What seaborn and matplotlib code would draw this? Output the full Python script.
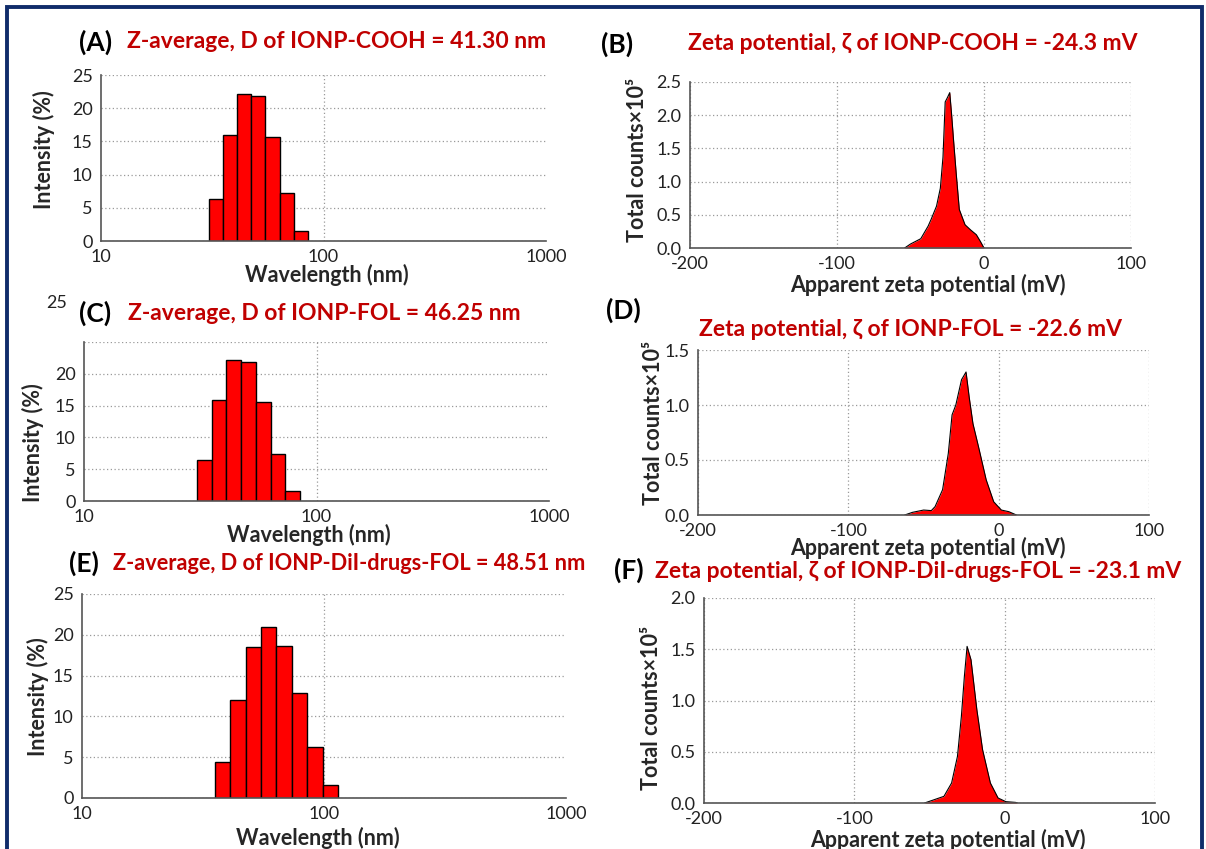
import numpy as np
import pandas as pd
import matplotlib
matplotlib.use("Agg")
import matplotlib.pyplot as plt
from matplotlib.patches import Rectangle
from matplotlib.ticker import MultipleLocator, FixedLocator, NullFormatter, FormatStrFormatter
import seaborn as sns

# DLS size distributions: bin edges (nm) and intensity (%)
edges_cooh = [30.7, 35.5, 41.0, 47.4, 54.8, 63.5, 73.5, 85.2]
intensity_cooh = [6.4, 15.9, 22.1, 21.9, 15.6, 7.3, 1.5]
edges_fol = [30.7, 35.5, 41.0, 47.4, 54.8, 63.5, 73.5, 85.2]
intensity_fol = [6.4, 15.9, 22.2, 21.9, 15.6, 7.4, 1.5]
edges_dil = [35.5, 41.0, 47.4, 54.8, 63.5, 73.5, 85.2, 98.7, 114.3]
intensity_dil = [4.4, 12.0, 18.5, 21.0, 18.65, 12.9, 6.3, 1.6]

# zeta potential distributions (mV vs counts x1e5)
zeta_cooh = [-54, -50, -43, -38, -36, -32.3, -29.7, -27.9, -26.4, -25, -23.3, -22, -20.7, -18.9, -16.8, -12.9, -9, -5.2, -2.5, 0]
counts_cooh = [0, 0.06, 0.14, 0.33, 0.43, 0.63, 0.90, 1.37, 2.20, 2.26, 2.34, 2.0, 1.62, 1.12, 0.58, 0.35, 0.27, 0.20, 0.10, 0]
zeta_fol = [-62.5, -57.4, -49.9, -44.8, -42.3, -37.3, -33.5, -31.0, -28.5, -24.7, -21.7, -19.6, -17.1, -13.4, -8.3, -3.3, 1.8, 6.8, 11.8]
counts_fol = [0, 0.024, 0.045, 0.04, 0.076, 0.23, 0.56, 0.91, 1.0, 1.23, 1.30, 1.07, 0.83, 0.62, 0.32, 0.12, 0.045, 0.03, 0]
zeta_dil = [-53.3, -48.1, -40.4, -35.3, -31.4, -28.8, -26.8, -25.0, -22.4, -18.5, -14.7, -9.5, -4.4, 0.8, 7.2, 8.5]
counts_dil = [0, 0.026, 0.065, 0.195, 0.455, 0.845, 1.236, 1.528, 1.398, 0.91, 0.52, 0.195, 0.049, 0.013, 0.006, 0]

panel_letters = ["(A)", "(B)", "(C)", "(D)", "(E)", "(F)"]
panel_titles = [
    "Z-average, D of IONP-COOH = 41.30 nm",
    "Zeta potential, \u03b6 of IONP-COOH = -24.3 mV",
    "Z-average, D of IONP-FOL = 46.25 nm",
    "Zeta potential, \u03b6 of IONP-FOL = -22.6 mV",
    "Z-average, D of IONP-DiI-drugs-FOL = 48.51 nm",
    "Zeta potential, \u03b6 of IONP-DiI-drugs-FOL = -23.1 mV",
]

sns.set_style("white")
plt.rcParams['font.family'] = ['Lato', 'DejaVu Sans']
plt.rcParams['axes.unicode_minus'] = False

W, H = 1206, 849
fig = plt.figure(figsize=(W / 100, H / 100), dpi=100)
RED = "#C00000"
FAM = ['Lato', 'DejaVu Sans']


def rect(l, r, t, b):
    return [l / W, 1 - b / H, (r - l) / W, (b - t) / H]


def ftext(x, y, s, **kw):
    fig.text(x / W, 1 - y / H, s, **kw)


def style_axes(ax):
    for side in ["top", "right"]:
        ax.spines[side].set_visible(False)
    for side in ["left", "bottom"]:
        ax.spines[side].set_color("#555555")
        ax.spines[side].set_linewidth(1.2)
    ax.tick_params(which="both", direction="inout", color="#555555", labelsize=13,
                   labelcolor="#222222")
    ax.tick_params(which="major", length=5, width=1)
    ax.tick_params(which="minor", length=4, width=1)
    ax.grid(True, which="major", color="#9a9a9a", linestyle=(0, (1, 2)), linewidth=0.9)
    ax.set_axisbelow(True)
    ax.set(xlabel="", ylabel="")


def size_panel(box, edges, vals):
    ax = fig.add_axes(rect(*box))
    edges = np.array(edges)
    df = pd.DataFrame({"size": np.sqrt(edges[:-1] * edges[1:]), "intensity": vals})
    sns.histplot(data=df, x="size", weights="intensity", bins=[float(b) for b in np.log10(edges)],
                 log_scale=True, ax=ax, color="#FF0000", edgecolor="black",
                 linewidth=1, alpha=1)
    ax.set_xlim(10, 1000)
    ax.set_ylim(0, 25)
    ax.xaxis.set_major_locator(FixedLocator([10, 100, 1000]))
    ax.xaxis.set_major_formatter(FormatStrFormatter("%d"))
    ax.xaxis.set_minor_locator(FixedLocator([20, 30, 40, 50, 60, 70, 80, 90,
                                             200, 300, 400, 500, 600, 700, 800, 900]))
    ax.xaxis.set_minor_formatter(NullFormatter())
    ax.yaxis.set_major_locator(MultipleLocator(5))
    ax.yaxis.set_minor_locator(MultipleLocator(2.5))
    style_axes(ax)
    ax.grid(False, axis="x")
    ax.axvline(100, color="#9a9a9a", linestyle=(0, (1, 2)), linewidth=0.9, zorder=0)
    return ax


def zeta_panel(box, x, y, ymax):
    ax = fig.add_axes(rect(*box))
    ax.fill_between(x, y, color="#FF0000", linewidth=0)
    sns.lineplot(x=x, y=y, ax=ax, color="black", linewidth=0.8, sort=False)
    ax.set_xlim(-200, 100)
    ax.set_ylim(0, ymax)
    ax.xaxis.set_major_locator(MultipleLocator(100))
    ax.xaxis.set_minor_locator(MultipleLocator(50))
    ax.yaxis.set_major_locator(MultipleLocator(0.5))
    ax.yaxis.set_minor_locator(MultipleLocator(0.25))
    ax.yaxis.set_major_formatter(FormatStrFormatter("%.1f"))
    style_axes(ax)
    return ax


axA = size_panel((101, 546, 75, 241), edges_cooh, intensity_cooh)
axB = zeta_panel((690, 1131, 82, 248), zeta_cooh, counts_cooh, 2.5)
axC = size_panel((84, 549, 342, 501), edges_fol, intensity_fol)
axD = zeta_panel((698, 1149, 350, 515), zeta_fol, counts_fol, 1.5)
axE = size_panel((82, 566, 594, 798), edges_dil, intensity_dil)
axF = zeta_panel((704, 1155, 598, 803), zeta_dil, counts_dil, 2.0)

# panel C: the "25" label sits far above the axis in the source figure
axC.set_yticks([0, 5, 10, 15, 20, 25], ["0", "5", "10", "15", "20", ""])
ftext(57, 303, "25", fontsize=13, color="#222222", ha="center", va="center", family=FAM)

# letters and red titles
letter_pos = [(79, 42), (601, 44), (79, 313), (606, 310), (69, 563), (614, 570)]
title_pos = [(127, 42), (688, 44), (128, 313), (699, 330), (113, 563), (655, 571)]
title_size = [16.5, 16.5, 16.5, 16.5, 15.7, 16.5]
for (lx, ly), (tx, ty), letter, title, fs in zip(letter_pos, title_pos, panel_letters,
                                               panel_titles, title_size):
    ftext(lx, ly, letter, fontsize=19, fontweight="bold", color="black",
          ha="left", va="center", family=FAM)
    ftext(tx, ty, title, fontsize=fs, fontweight="bold", color=RED,
          ha="left", va="center", family=FAM)

# axis labels
ylab_size = "Intensity (%)"
ylab_zeta = "Total counts\u00d710\u2075"
xlab_size = "Wavelength (nm)"
xlab_zeta = "Apparent zeta potential (mV)"
for (x, y), s in zip([(44, 150), (637, 160), (33, 443), (654, 423), (38, 697), (652, 708)],
                     [ylab_size, ylab_zeta] * 3):
    ftext(x, y, s, fontsize=15.5, fontweight="bold", rotation=90, ha="center", va="center",
          family=FAM)
for (x, y), s in zip([(327, 275), (928, 285), (309, 535), (928, 548), (318, 838), (948, 840)],
                     [xlab_size, xlab_zeta] * 3):
    ftext(x, y, s, fontsize=15.5, fontweight="bold", ha="center", va="center", family=FAM)

# navy frame around the figure (open at the bottom)
fig.add_artist(Rectangle((6.5 / W, -0.1), (1201.5 - 6.5) / W, 1.1 - 6.5 / H,
                         transform=fig.transFigure, fill=False, edgecolor="#102C6A",
                         linewidth=2.8))

fig.savefig("out.png", dpi=100)
plt.close(fig)
